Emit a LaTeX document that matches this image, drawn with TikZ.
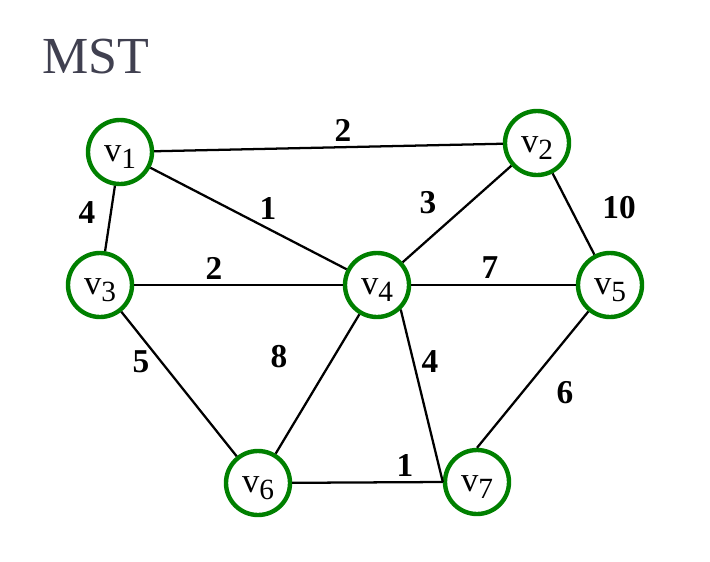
\documentclass[tikz,border=0pt]{standalone}
\usepackage{fontspec}
\setmainfont{Liberation Serif}
\usepackage{xcolor}
\usepackage{tikz}

\definecolor{vgreen}{RGB}{0,128,0}
\definecolor{titlegray}{RGB}{64,64,80}

\newcommand{\vlabel}[1]{v\raisebox{-5.5pt}[\height][0pt]{\fontsize{22}{24}\selectfont #1}}

\tikzset{
    vertex/.style={circle, draw=vgreen, line width=3.3pt, fill=white, minimum size=48pt, inner sep=0pt, font=\fontsize{26}{28}\selectfont},
    edge/.style={black, line width=1.7pt},
    weight/.style={font=\fontsize{25}{28}\selectfont\bfseries, inner sep=0pt}
}

\begin{document}
\begin{tikzpicture}[x=0.75pt, y=-0.75pt]

    % Canvas
    \useasboundingbox (0, 0) rectangle (710, 561);

    % Title
    \node[anchor=west, text=titlegray, font=\fontsize{39}{44}\selectfont, inner sep=0pt] (title) at (42, 57) {MST};

    % Vertex positions
    \coordinate (p1) at (120, 152);
    \coordinate (p2) at (537, 143);
    \coordinate (p3) at (100, 285);
    \coordinate (p4) at (377, 285);
    \coordinate (p5) at (610, 285);
    \coordinate (p6) at (258, 483);
    \coordinate (p7) at (477, 482);

    % Vertices
    \node[vertex] (v1) at (p1) {\vlabel{1}};
    \node[vertex] (v2) at (p2) {\vlabel{2}};
    \node[vertex] (v3) at (p3) {\vlabel{3}};
    \node[vertex] (v4) at (p4) {\vlabel{4}};
    \node[vertex] (v5) at (p5) {\vlabel{5}};
    \node[vertex] (v6) at (p6) {\vlabel{6}};
    \node[vertex] (v7) at (p7) {\vlabel{7}};

    % Connectors
    \draw[edge] (v1) -- (v2);
    \draw[edge] (v1) -- (v3);
    \draw[edge] (v1) -- (v4);
    \draw[edge] (v2) -- (v4);
    \draw[edge] (v2) -- (v5);
    \draw[edge] (v3) -- (v4);
    \draw[edge] (v4) -- (v5);
    \draw[edge] (v3) -- (v6);
    \draw[edge] (v4) -- (v6);
    \draw[edge] (v4.-46) -- (v7.west);
    \draw[edge] (v6) -- (v7.west);
    \draw[edge] (v5) -- (v7.north);

    % Weights
    \node[weight] (w12) at (343, 130) {2};
    \node[weight] (w13) at (87, 213) {4};
    \node[weight] (w14) at (268, 208) {1};
    \node[weight] (w24) at (428, 203) {3};
    \node[weight] (w25) at (619, 208) {10};
    \node[weight] (w34) at (214, 268) {2};
    \node[weight] (w45) at (490, 268) {7};
    \node[weight] (w46) at (279, 357) {8};
    \node[weight] (w36) at (141, 362) {5};
    \node[weight] (w47) at (430, 362) {4};
    \node[weight] (w57) at (565, 393) {6};
    \node[weight] (w67) at (405, 465) {1};

\end{tikzpicture}
\end{document}
